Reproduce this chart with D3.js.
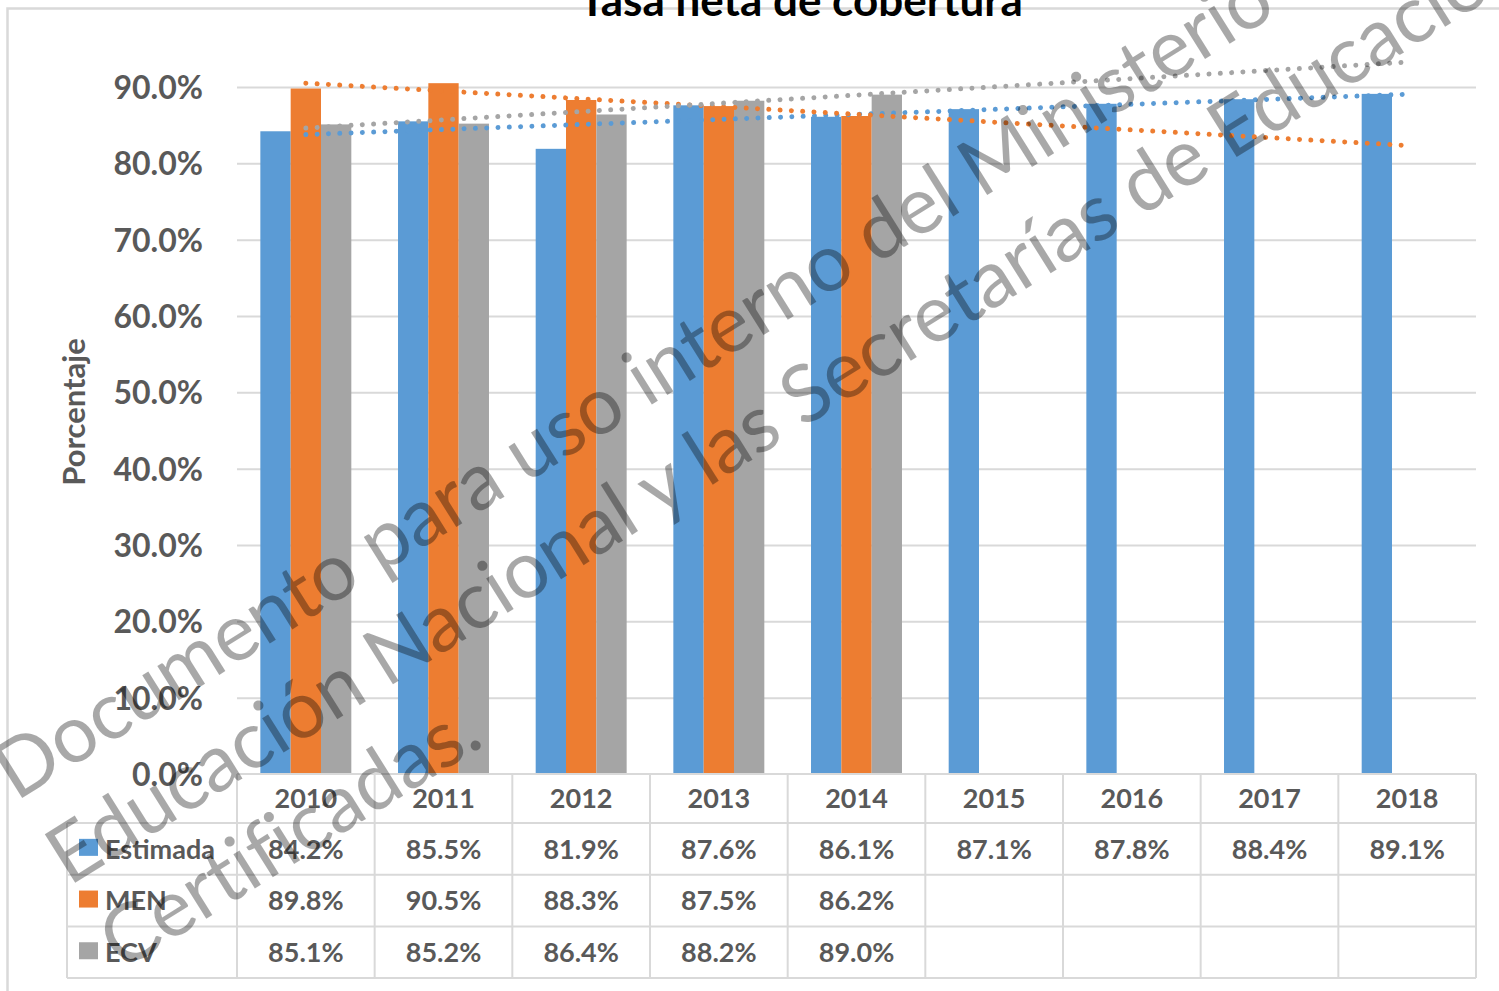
<!DOCTYPE html>
<html>
<head>
<meta charset="utf-8">
<script src="https://cdn.jsdelivr.net/npm/d3@7"></script>
<style>
  body { margin: 0; background: #fff; }
  svg text { font-family: Lato, "Open Sans", sans-serif; }
</style>
</head>
<body>
<script>
// valores
var anios = ["2010", "2011", "2012", "2013", "2014", "2015", "2016", "2017", "2018"];
var series = ["Estimada", "MEN", "ECV"];
var estimada = [84.2, 85.5, 81.9, 87.6, 86.1, 87.1, 87.8, 88.4, 89.1];
var men = [89.8, 90.5, 88.3, 87.5, 86.2, null, null, null, null];
var ecv = [85.1, 85.2, 86.4, 88.2, 89.0, null, null, null, null];
var colores = ["#5B9BD5", "#ED7D31", "#A5A5A5"];
var ticksY = [0, 10, 20, 30, 40, 50, 60, 70, 80, 90];
var titulo = "Tasa neta de cobertura";
var tituloY = "Porcentaje";
var marcaAgua = [
  "Documento para uso interno del Ministerio de",
  "Educación Nacional y las Secretarías de Educación",
  "Certificadas."
];

// recta de minimos cuadrados como la linea de tendencia de Excel
function tendencia(vals) {
  var pts = [];
  vals.forEach(function(v, i) { if (v != null) pts.push([i + 1, v]); });
  var mx = d3.mean(pts, function(p) { return p[0]; });
  var my = d3.mean(pts, function(p) { return p[1]; });
  var num = d3.sum(pts, function(p) { return (p[0] - mx) * (p[1] - my); });
  var den = d3.sum(pts, function(p) { return (p[0] - mx) * (p[0] - mx); });
  var m = num / den;
  return function(i) { return my + m * (i + 1 - mx); };
}

function dibujar() {
  var width = 1499, height = 991;
  var valores = [estimada, men, ecv];
  var izq = 237, der = 1476;

  var svg = d3.select("body").append("svg")
    .attr("width", width)
    .attr("height", height);

  var x0 = d3.scaleBand().domain(anios).range([izq, der]);
  var x1 = d3.scaleBand().domain(series).range([0, x0.bandwidth()]).paddingOuter(0.77);
  var y = d3.scaleLinear().domain([0, 90]).range([774, 87]);

  // marco del grafico
  svg.append("path")
    .attr("d", "M7.5," + height + " V8.5 H" + width)
    .attr("fill", "none")
    .attr("stroke", "#d9d9d9")
    .attr("stroke-width", 2.5);

  // lineas de cuadricula
  svg.append("g")
    .attr("transform", "translate(" + izq + ",0)")
    .call(d3.axisLeft(y).tickValues(ticksY.slice(1)).tickSize(-(der - izq)).tickFormat(""))
    .call(function(g) { g.select(".domain").remove(); })
    .selectAll("line")
    .attr("stroke", "#d9d9d9")
    .attr("stroke-width", 2);

  // etiquetas del eje Y
  svg.append("g")
    .attr("transform", "translate(" + izq + ",0)")
    .call(d3.axisLeft(y).tickValues(ticksY).tickSize(0).tickPadding(34)
      .tickFormat(function(d) { return d.toFixed(1) + "%"; }))
    .call(function(g) { g.select(".domain").remove(); })
    .selectAll("text")
    .attr("font-family", "Lato")
    .attr("font-size", 32)
    .attr("font-weight", "bold")
    .attr("fill", "#595959")
    .attr("dy", "0.36em");

  // barras
  series.forEach(function(s, i) {
    var datos = anios.map(function(a, j) { return {anio: a, v: valores[i][j]}; })
      .filter(function(d) { return d.v != null; });
    svg.append("g").selectAll("rect")
      .data(datos)
      .enter().append("rect")
      .attr("x", function(d) { return x0(d.anio) + x1(s); })
      .attr("y", function(d) { return y(d.v); })
      .attr("width", x1.bandwidth())
      .attr("height", function(d) { return y(0) - y(d.v); })
      .attr("fill", colores[i]);
  });

  // lineas de tendencia punteadas
  series.forEach(function(s, i) {
    var f = tendencia(valores[i]);
    var linea = d3.line()
      .x(function(a) { return x0(a) + x0.bandwidth() / 2; })
      .y(function(a, j) { return y(f(j)); });
    svg.append("path")
      .datum(anios)
      .attr("d", linea)
      .attr("fill", "none")
      .attr("stroke", colores[i])
      .attr("stroke-width", 5)
      .attr("stroke-linecap", "round")
      .attr("stroke-dasharray", "0.01 11.3");
  });

  // tabla de datos
  var tablaIzq = 67, filaTop = 774, altoEnc = 49, altoFila = 51.7;
  var filas = [filaTop, filaTop + altoEnc];
  for (var k = 1; k <= 3; k++) filas.push(filaTop + altoEnc + k * altoFila);
  var tabla = svg.append("g");
  filas.forEach(function(fy, k) {
    tabla.append("line")
      .attr("x1", k == 0 ? izq : tablaIzq).attr("x2", der)
      .attr("y1", fy).attr("y2", fy)
      .attr("stroke", "#d9d9d9").attr("stroke-width", 2);
  });
  anios.concat(["fin"]).forEach(function(a) {
    var xx = a == "fin" ? der : x0(a);
    tabla.append("line")
      .attr("x1", xx).attr("x2", xx)
      .attr("y1", filas[0]).attr("y2", filas[4])
      .attr("stroke", "#d9d9d9").attr("stroke-width", 2);
  });
  tabla.append("line")
    .attr("x1", tablaIzq).attr("x2", tablaIzq)
    .attr("y1", filas[1]).attr("y2", filas[4])
    .attr("stroke", "#d9d9d9").attr("stroke-width", 2);

  // encabezado de anios
  tabla.selectAll("text.anio")
    .data(anios)
    .enter().append("text")
    .attr("class", "anio")
    .attr("x", function(a) { return x0(a) + x0.bandwidth() / 2; })
    .attr("y", (filas[0] + filas[1]) / 2)
    .attr("dy", "0.36em")
    .attr("text-anchor", "middle")
    .attr("font-size", 27)
    .attr("font-weight", "bold")
    .attr("fill", "#595959")
    .text(function(a) { return a; });

  series.forEach(function(s, i) {
    var cy = (filas[i + 1] + filas[i + 2]) / 2;
    tabla.append("rect")
      .attr("x", 79).attr("y", cy - 10)
      .attr("width", 19).attr("height", 17)
      .attr("fill", colores[i]);
    tabla.append("text")
      .attr("x", 105).attr("y", cy)
      .attr("dy", "0.36em")
      .attr("font-size", 27)
      .attr("font-weight", "bold")
      .attr("fill", "#595959")
      .text(s);
    tabla.append("g").selectAll("text")
      .data(anios.map(function(a, j) { return {anio: a, v: valores[i][j]}; })
        .filter(function(d) { return d.v != null; }))
      .enter().append("text")
      .attr("x", function(d) { return x0(d.anio) + x0.bandwidth() / 2; })
      .attr("y", cy)
      .attr("dy", "0.36em")
      .attr("text-anchor", "middle")
      .attr("font-size", 27)
      .attr("font-weight", "bold")
      .attr("fill", "#595959")
      .text(function(d) { return d.v.toFixed(1) + "%"; });
  });

  // titulo del eje Y
  svg.append("text")
    .attr("transform", "translate(85,412) rotate(-90)")
    .attr("text-anchor", "middle")
    .attr("font-size", 31)
    .attr("font-weight", "bold")
    .attr("fill", "#595959")
    .text(tituloY);

  // titulo (cortado arriba)
  svg.append("text")
    .attr("x", 801).attr("y", 16)
    .attr("text-anchor", "middle")
    .attr("font-size", 44)
    .attr("font-weight", "bold")
    .attr("fill", "#000")
    .text(titulo);

  // marca de agua
  var ma = svg.append("g")
    .attr("transform", "translate(16,802) rotate(-32)")
    .attr("fill", "#000")
    .attr("fill-opacity", 0.34);
  ma.selectAll("text")
    .data(marcaAgua)
    .enter().append("text")
    .attr("x", 0)
    .attr("y", function(d, i) { return i * 100; })
    .attr("font-size", 80)
    .attr("letter-spacing", -0.5)
    .text(function(d) { return d; });
}

dibujar();
</script>
</body>
</html>
